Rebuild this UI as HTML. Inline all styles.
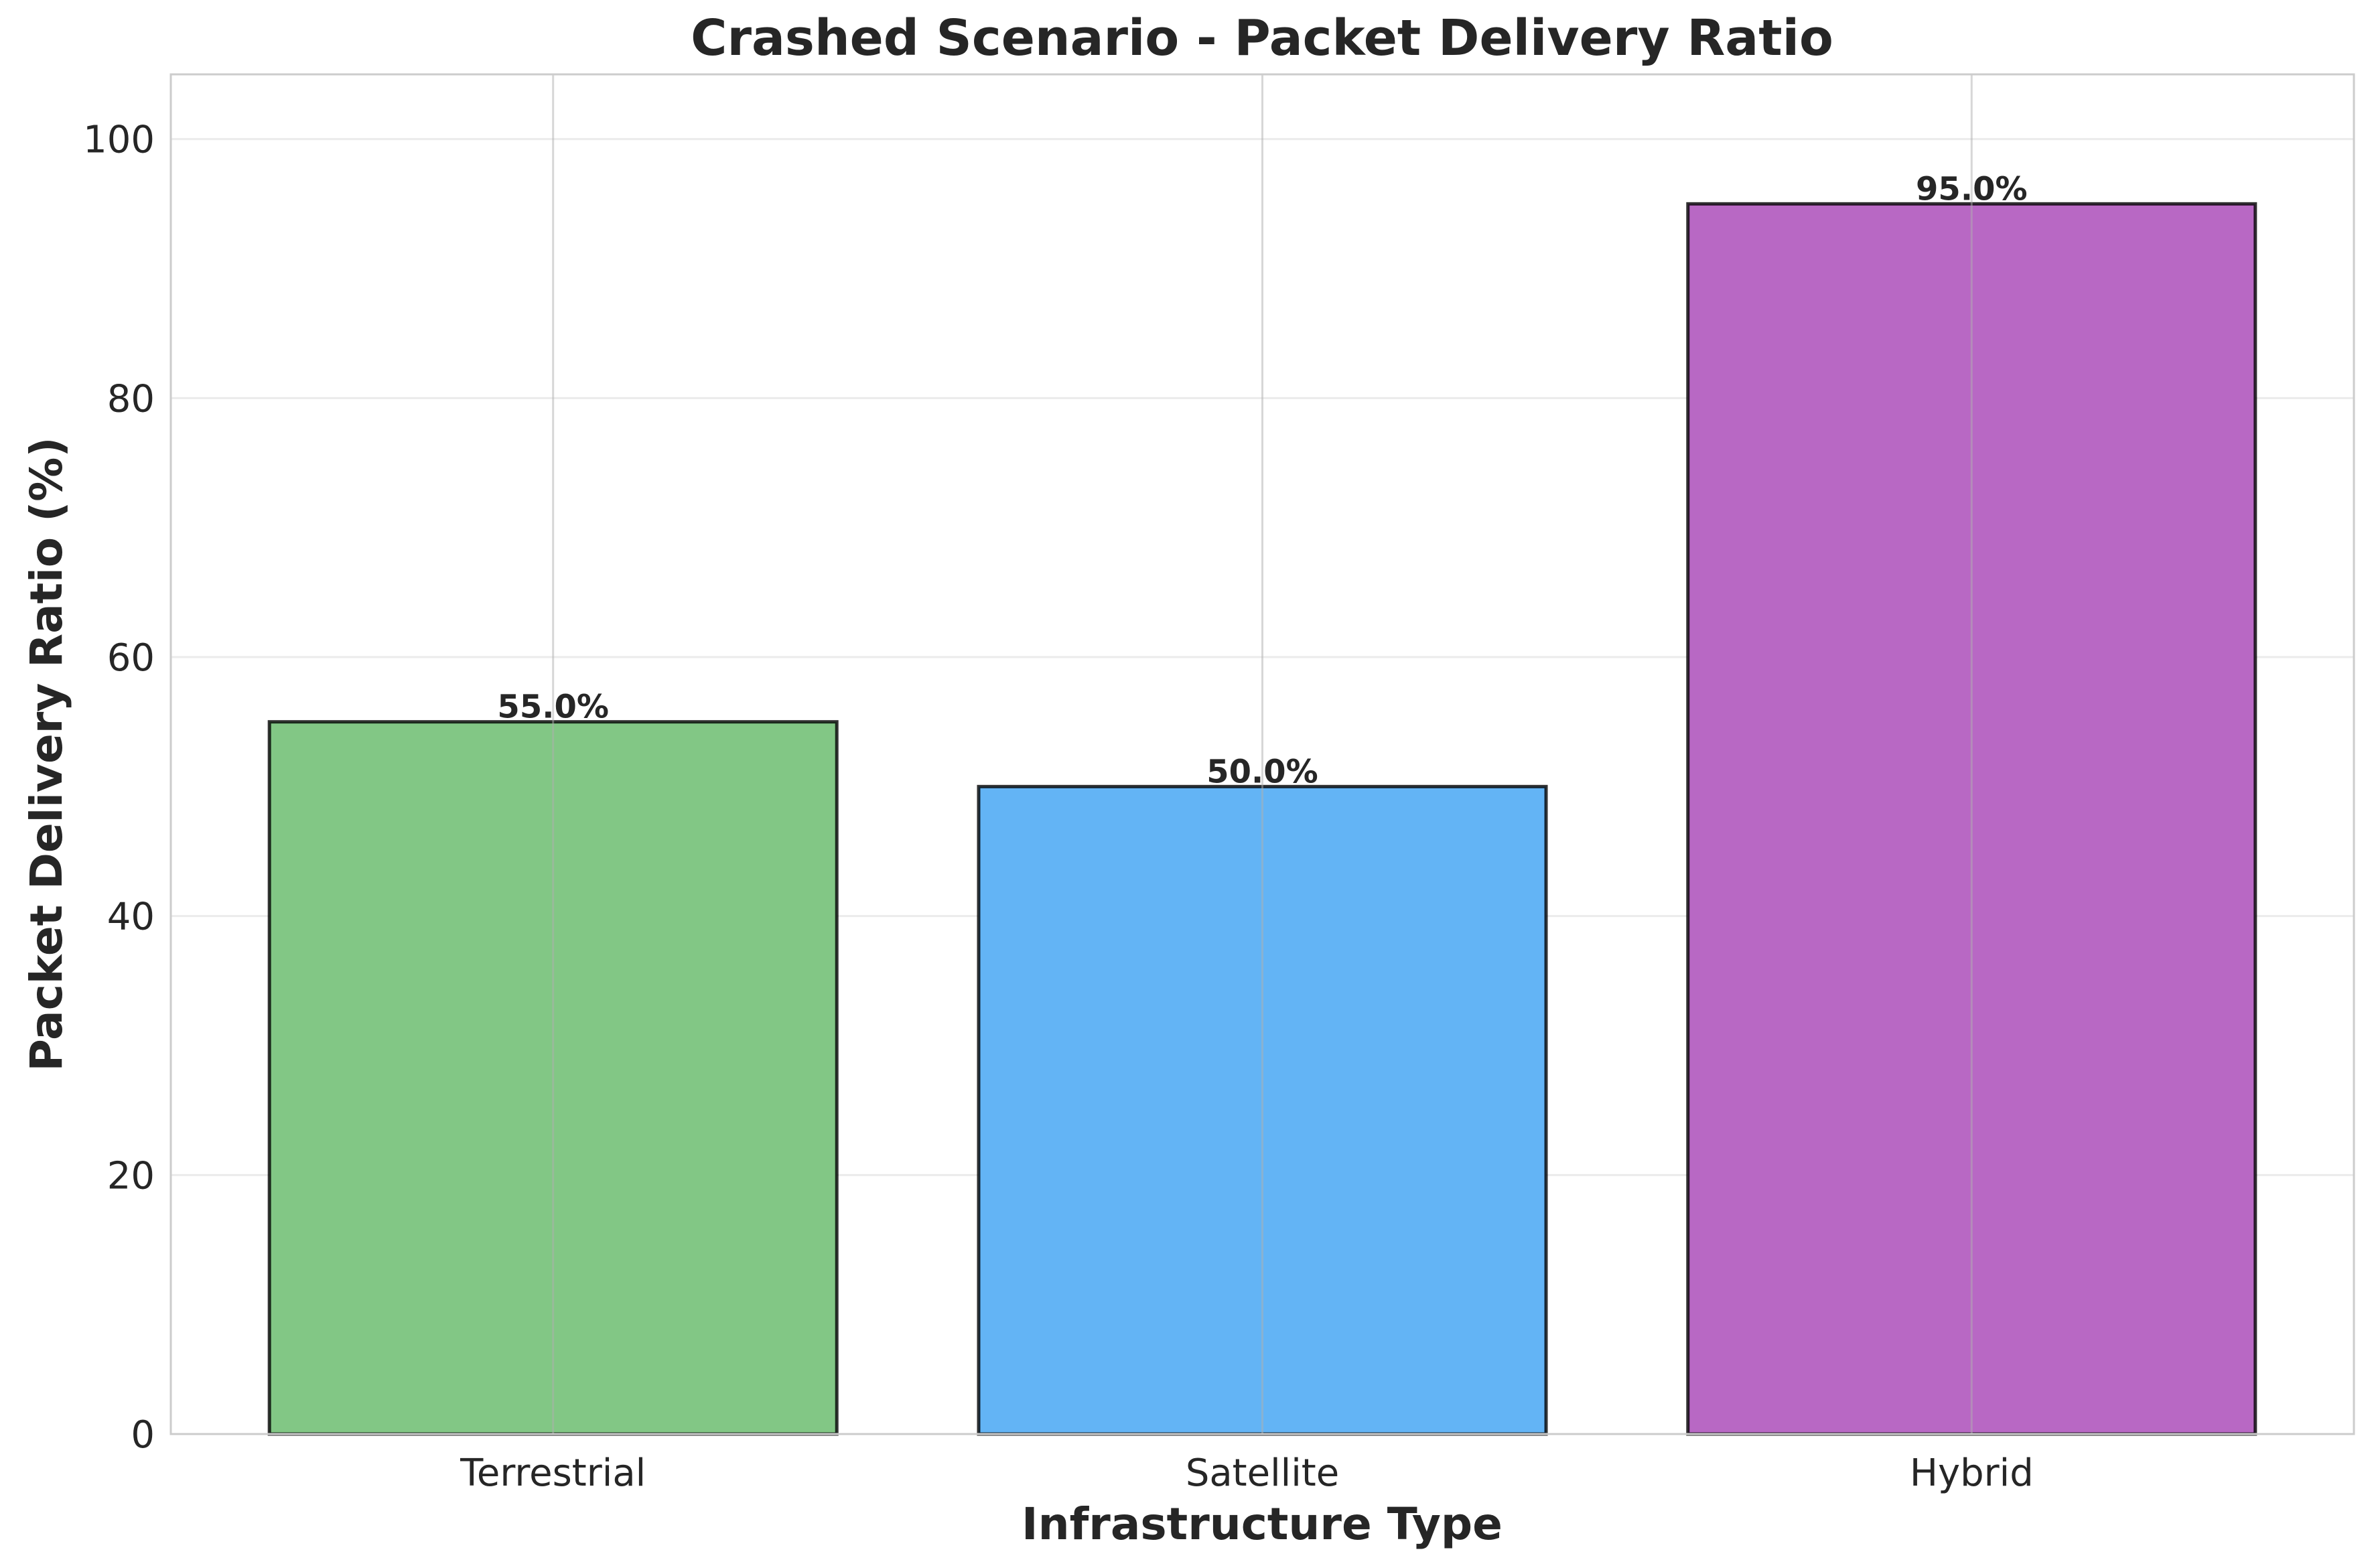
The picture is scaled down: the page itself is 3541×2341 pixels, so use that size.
<!DOCTYPE html>
<html><head><meta charset="utf-8"><style>
html,body{margin:0;padding:0;background:#fff;}
svg{display:block;font-family:"DejaVu Sans","Liberation Sans",sans-serif;}
</style></head><body>
<svg id="chart" width="3541" height="2341" viewBox="0 0 3541 2341" xmlns="http://www.w3.org/2000/svg">
<rect x="0" y="0" width="3541" height="2341" fill="#fff"/>
<g id="grid"></g>
<g id="bars"></g>
<g id="vgrid"></g>
<g id="labels"></g>
<rect x="255" y="111" width="3259" height="2030" fill="none" stroke="#cccccc" stroke-width="3"/>
<g id="ticks"></g>
<text x="1884" y="82" text-anchor="middle" font-size="74" font-weight="bold" fill="#262626">Crashed Scenario - Packet Delivery Ratio</text>
<text x="1884" y="2298" text-anchor="middle" font-size="66" font-weight="bold" fill="#262626">Infrastructure Type</text>
<text transform="translate(92,1126) rotate(-90)" text-anchor="middle" font-size="66" font-weight="bold" fill="#262626">Packet Delivery Ratio (%)</text>
</svg>
<script>
const categories = ["Terrestrial", "Satellite", "Hybrid"];
const values = [55.0, 50.0, 95.0];
const yTicks = [0, 20, 40, 60, 80, 100];
const valueLabels = ["55.0%", "50.0%", "95.0%"];
const colors = ["#82c785", "#63b4f5", "#b868c4"];

const NS = "http://www.w3.org/2000/svg";
const L = 255, R = 3514, T = 111, B = 2141;
const xMin = -0.539, xMax = 2.539, yMax = 105;
function xs(v){ return L + (v - xMin) / (xMax - xMin) * (R - L); }
function ys(v){ return B - v / yMax * (B - T); }
function mk(tag, attrs, parent){
  const e = document.createElementNS(NS, tag);
  for (const k in attrs) e.setAttribute(k, attrs[k]);
  document.getElementById(parent).appendChild(e);
  return e;
}
yTicks.forEach(t => {
  const g = mk("line", {x1:L, x2:R, y1:ys(t), y2:ys(t), stroke:"#ebebeb", "stroke-width":3}, "grid");
  
  
  const tx = mk("text", {x:L-24, y:ys(t)+20, "text-anchor":"end", "font-size":56, fill:"#262626"}, "ticks");
  tx.textContent = t;
  
  
});
const bw = 0.8;
categories.forEach((c, i) => {
  const x0 = xs(i - bw/2), x1 = xs(i + bw/2);
  const b = mk("rect", {x:x0, y:ys(values[i]), width:x1-x0, height:ys(0)-ys(values[i]), fill:colors[i], stroke:"rgba(0,0,0,0.8)", "stroke-width":5}, "bars");
  
  
  const v = mk("line", {x1:xs(i), x2:xs(i), y1:T, y2:B, stroke:"rgba(176,176,176,0.5)", "stroke-width":3}, "vgrid");
  
  
  const lb = mk("text", {x:xs(i), y:ys(values[i])-6, "text-anchor":"middle", "font-size":48, "font-weight":"bold", fill:"#262626"}, "labels");
  lb.textContent = valueLabels[i];
  
  
  const xl = mk("text", {x:xs(i), y:2218, "text-anchor":"middle", "font-size":56, fill:"#262626"}, "ticks");
  xl.textContent = c;
  
  
});
</script>
</body></html>
